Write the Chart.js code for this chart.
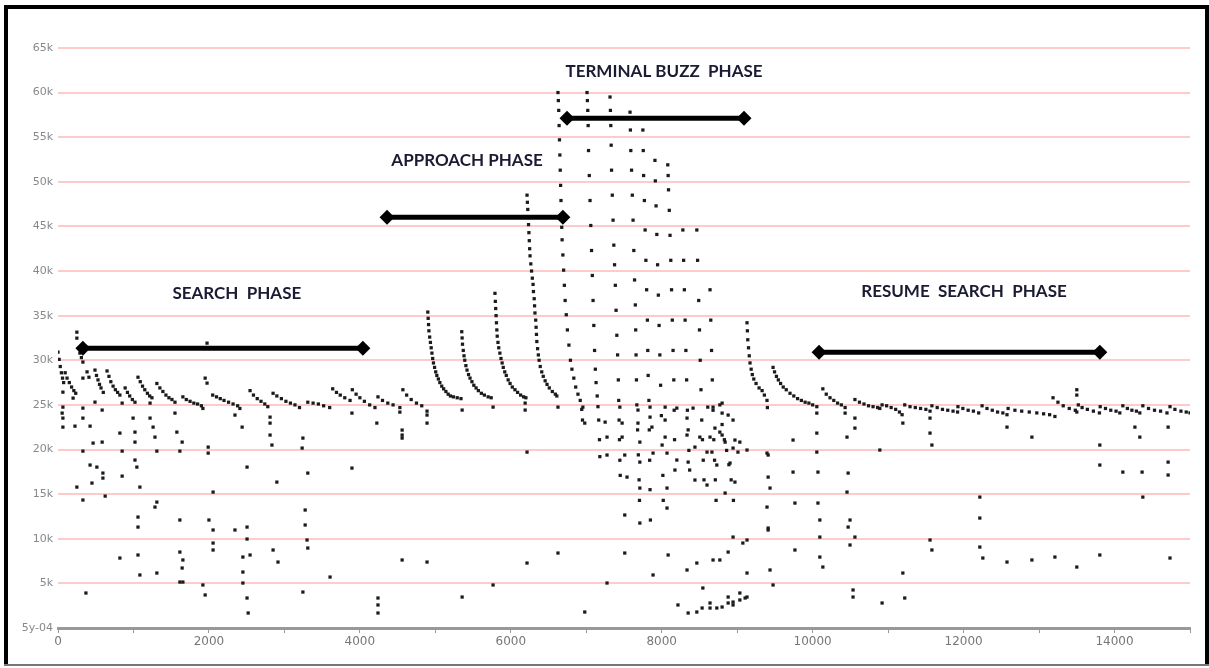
<!DOCTYPE html>
<html><head><meta charset="utf-8">
<script src="https://cdn.jsdelivr.net/npm/chart.js@4.4.1/dist/chart.umd.min.js"></script>
<style>html,body{margin:0;padding:0;background:#fff;}canvas{display:block;}</style>
</head><body>
<canvas id="c" width="1209" height="668"></canvas>
<script>
// ---- tick labels ----
const xTickValues = [0,1000,2000,3000,4000,5000,6000,7000,8000,9000,10000,11000,12000,13000,14000,15000];
const yTickValues = [0,5000,10000,15000,20000,25000,30000,35000,40000,45000,50000,55000,60000,65000];
const yTickLabels = ['5y-04','5k','10k','15k','20k','25k','30k','35k','40k','45k','50k','55k','60k','65k'];

// ---- phase annotations ----
const phaseNames  = ['SEARCH  PHASE','APPROACH PHASE','TERMINAL BUZZ  PHASE','RESUME  SEARCH  PHASE'];
const phaseStart  = [330, 4360, 6745, 10085];
const phaseEnd    = [4040, 6690, 9090, 13805];
const phaseLevel  = [31360, 46030, 57120, 30910];
const labelX      = [2370, 5420, 8030, 12005];
const labelY      = [37500, 52400, 62400, 37700];

// ---- search phase calls (time, frequency) ----
const searchCalls = [
 [0,30900],[15,30100],[30,29300],[45,28600],[60,28000],[75,27500],
 [95,28600],[120,28000],[150,27500],[180,27000],[210,26600],[235,26300],
 [290,30800],[310,30300],[330,29800],[385,28700],[410,28100],
 [490,28900],[510,28300],[530,27800],[550,27300],[570,26900],[600,26400],
 [650,28800],[675,28200],[700,27600],[730,27100],[760,26700],[790,26400],[820,26100],
 [890,26900],[920,26400],[950,26000],[985,25600],[1020,25300],
 [1060,28100],[1090,27600],[1120,27100],[1150,26700],[1185,26300],[1215,26000],[1245,25800],
 [1310,27400],[1350,26900],[1390,26500],[1430,26100],[1470,25800],[1510,25600],[1550,25300],
 [1655,25900],[1700,25600],[1750,25400],[1800,25200],[1850,25100],[1900,24900],[1920,24600],
 [2050,26100],[2100,25900],[2150,25700],[2200,25500],[2260,25300],[2320,25100],[2380,24900],[2410,24600],
 [2545,26600],[2590,26100],[2640,25700],[2690,25400],[2740,25100],[2780,24800],
 [2850,26300],[2900,26000],[2960,25700],[3020,25400],[3080,25200],[3140,25000],[3200,24700],
 [3310,25300],[3380,25200],[3450,25100],[3520,24900],[3600,24700],
 [3640,26800],[3690,26400],[3740,26100],[3800,25800],[3870,25500],
 [3900,26700],[3950,26200],[4000,25800],[4060,25400],[4130,25000],[4200,24700],
 [4240,25900],[4300,25500],[4370,25200],[4440,25000],[4530,24700],
 [4570,26700],[4620,26100],[4680,25600],[4750,25200],[4820,24900],[4890,24300]
];

// ---- approach phase calls ----
const approachCalls = [
 [4900,35400],[4905,34700],[4910,34000],[4915,33300],[4925,32600],[4935,32000],[4945,31400],[4955,30800],[4965,30200],
 [4975,29700],[4990,29200],[5005,28700],[5020,28300],[5040,27900],[5060,27500],[5085,27100],[5110,26800],[5140,26500],
 [5170,26200],[5200,26000],[5240,25900],[5290,25800],[5340,25700],
 [5350,33200],[5355,32500],[5360,31800],[5370,31100],[5380,30500],[5390,30000],[5405,29400],[5420,28900],[5440,28400],
 [5460,28000],[5485,27600],[5510,27200],[5540,26900],[5570,26600],[5610,26300],[5650,26100],[5700,25900],[5740,25800],
 [5790,37500],[5795,36600],[5800,35800],[5805,35000],[5810,34200],[5815,33400],[5820,32700],[5830,32000],[5840,31400],
 [5855,30800],[5870,30200],[5885,29700],[5900,29200],[5920,28700],[5940,28300],[5965,27800],[5990,27400],[6020,27000],
 [6055,26700],[6090,26400],[6130,26100],[6170,25900],[6200,25800],
 [6215,48500],[6220,47700],[6225,46900],[6230,46000],[6235,45200],[6240,44300],[6245,43400],[6250,42500],[6255,41700],
 [6265,40800],[6275,40000],[6285,39200],[6295,38500],[6300,37700],[6310,36900],[6315,36100],[6320,35300],[6330,34500],
 [6335,33700],[6340,32900],[6345,32100],[6355,31300],[6365,30600],[6375,30000],[6390,29300],[6410,28700],[6430,28200],
 [6455,27700],[6480,27300],[6510,26900],[6550,26500],[6590,26200],[6610,26000]
];

// ---- terminal buzz calls ----
const buzzCalls = [
 [6625,60000],[6630,59100],[6635,58000],[6640,56300],[6645,54700],[6650,53000],[6655,51300],[6660,49600],[6665,47900],
 [6670,46300],[6675,44900],[6680,43500],[6690,41800],[6700,40100],[6710,38400],[6720,36700],[6735,35100],[6750,33400],
 [6770,31700],[6790,30000],[6810,29000],[6835,28000],[6860,27000],[6890,26200],[6920,25500],[6940,24500],[6950,23300],
 [7010,60000],[7015,59100],[7020,58000],[7025,56300],[7030,53500],[7040,50700],[7050,47900],[7060,45100],[7070,42300],
 [7080,39500],[7090,36700],[7100,33900],[7110,31100],[7120,29000],[7130,27500],[7145,26000],[7155,24800],[7165,23300],
 [7175,21100],[7180,19200],
 [7315,59500],[7320,58000],[7325,56300],[7330,54100],[7335,51300],[7345,48500],[7355,45700],[7365,42900],[7375,40700],
 [7385,38400],[7395,35600],[7405,32800],[7415,30600],[7425,27800],[7430,25500],[7435,23300],[7440,21100],[7445,18800],[7450,17100],
 [7580,57800],[7585,55800],[7590,53500],[7600,51300],[7610,48500],[7620,45700],[7630,42300],[7640,39000],[7650,36200],
 [7655,33400],[7660,30600],[7665,27800],[7670,25000],[7680,22200],[7690,19400],[7700,16600],[7705,14300],
 [7750,55800],[7755,53500],[7760,50700],[7770,47900],[7780,44600],[7790,41200],[7800,37900],[7810,34500],[7815,31100],
 [7820,28300],[7830,25500],[7835,22200],[7840,18800],[7845,15500],[7850,12100],
 [7910,52400],[7915,50100],[7925,47300],[7935,44100],[7945,40700],[7955,37300],[7965,33900],[7975,30600],[7985,27200],
 [7995,23800],[8005,20500],[8015,17100],[8020,14300],
 [8080,51900],[8085,50700],[8090,49100],[8100,46800],[8110,44000],[8120,41200],[8130,37900],[8140,34500],[8150,31100],
 [8160,27800],[8165,24400],[8170,21100],[8175,17700],
 [8280,44600],[8290,41200],[8300,37900],[8310,34500],[8320,31100],[8330,27800],[8340,24400],[8350,22200],[8360,19900],[8370,17700],
 [8465,44600],[8475,41200],[8490,36700],[8500,33400],[8510,30000],[8520,26700],[8530,23300],[8540,21100],[8550,18800],[8560,16600],
 [8640,37900],[8650,34500],[8660,31100],[8670,27800],[8680,24400],[8690,21100],[8700,18800],[8710,16600],[8720,14300],
 [8770,25000],[8800,22800],[8830,21100],[8860,19900],[8890,18300],[8920,16600],[8950,14300],
 [8215,2580],[8350,1680],[8465,1790],[8535,2240],[8640,2240],[8730,2240],[8800,2350],[8880,2800],[8945,2910],
 [9035,3140],[9105,3360],[9035,3920],[9130,3470],[8640,2800],[8945,2580]
];

// ---- resume search calls ----
const resumeCalls = [
 [9130,34200],[9135,33300],[9140,32300],[9150,31400],[9160,30500],[9170,29700],[9185,29000],[9200,28400],[9220,27900],
 [9250,27400],[9290,26900],[9330,26600],[9360,26100],[9395,25500],[9400,24700],
 [9475,29200],[9495,28700],[9520,28200],[9545,27800],[9575,27400],[9610,27000],[9650,26700],[9700,26300],[9750,26000],
 [9800,25700],[9850,25500],[9900,25300],[9950,25200],[10000,25000],[10055,24800],
 [10135,26800],[10180,26200],[10230,25800],[10280,25500],[10330,25200],[10380,25000],[10430,24700],
 [10560,25600],[10620,25300],[10680,25100],[10740,24900],[10800,24800],[10860,24700],[10890,24600],
 [10920,25000],[10980,24900],[11040,24700],[11100,24500],[11150,24200],[11185,23900],
 [11220,25000],[11290,24800],[11360,24700],[11430,24600],[11500,24500],[11555,24300],
 [11580,24900],[11650,24700],[11720,24500],[11790,24400],[11860,24300],[11920,24200],
 [11925,24800],[11990,24600],[12060,24400],[12130,24300],[12200,24100],
 [12245,24900],[12310,24600],[12380,24400],[12450,24200],[12520,24100],[12575,23900],
 [12590,24600],[12680,24400],[12770,24300],[12870,24200],[12970,24100],[13060,24000],[13140,23900],[13210,23700],
 [13185,25800],[13250,25300],[13320,24900],[13400,24600],[13480,24400],
 [13500,26700],[13500,26100],[13500,24200],
 [13520,25000],[13570,24700],[13640,24500],[13720,24300],[13800,24100],
 [13810,24800],[13880,24600],[13950,24400],[14020,24300],[14070,24100],
 [14110,24900],[14170,24600],[14230,24400],[14290,24300],[14335,24100],
 [14375,24900],[14450,24600],[14530,24400],[14610,24300],[14695,24100],
 [14735,24800],[14800,24500],[14880,24300],[14950,24200],[15000,24100]
];

// ---- isolated points / echoes ----
const scatterPoints = [
 [250,33150],[250,32480],[1975,31920],[1950,28000],[1975,27440],[65,26430],[65,24750],[55,24080],[65,23520],[65,22510],
 [200,25760],[330,28000],[330,24640],[330,23520],[225,22620],[425,22620],[490,25310],[585,24420],[850,25200],[820,21840],
 [995,23520],[1020,21950],[1020,20830],[1220,23520],[1260,22510],[1285,21390],[1220,25200],[1550,24080],[1575,21950],
 [1645,20830],[585,20830],[465,20720],[330,19820],[850,19820],[1310,19820],[1615,19820],[1990,20270],[1990,19600],
 [425,18260],[515,18030],[595,17360],[595,16800],[1020,18820],[1045,18030],[450,16240],[250,15790],[330,14340],[625,14780],
 [850,17020],[1085,15790],[1310,14110],[1285,13550],[1060,12430],[1060,11310],[1615,12100],[2000,12100],[2055,10980],
 [2345,10980],[2505,11310],[2505,9970],[2055,15230],[2505,18030],[2810,21620],[2835,20500],[2810,23630],[2810,22960],
 [2345,23860],[2440,22510],[2900,16350],[3245,21280],[3235,20160],[3310,17360],[3275,13220],[3275,11540],[3300,9860],
 [3310,8960],[3895,17920],[4225,22960],[4560,22180],[4560,21280],[4890,23860],[4890,22960],[820,7840],[1060,8180],
 [1085,5940],[1310,6160],[1615,8510],[1655,7620],[1645,6720],[1615,5150],[1655,5150],[1920,4820],[1950,3700],[2055,9520],
 [2055,8740],[2450,7950],[2545,8180],[2450,6270],[2450,5040],[2505,3360],[2520,1680],[2850,8740],[2915,7390],[3245,4030],
 [3605,5710],[4240,3360],[4240,2580],[4240,1680],[4560,7620],[4890,7390],[370,3920],[3895,24080],
 [4530,24190],[4560,21620],[5355,24420],[5765,24750],[6190,25200],[6190,24420],[6625,24750],[6215,19710],[6955,24750],
 [6980,22960],[5355,3470],[5765,4820],[6215,7280],[6625,8400],[6980,1790],[7275,5040],[7510,8400],[7510,12660],[7710,11760],
 [8085,8180],[7885,5940],[8070,13440],[7710,15680],[8070,15680],[8840,15120],[8440,16580],[8600,16020],[8970,16350],
 [8200,18820],[8350,18590],[8730,18260],[8905,18480],[8600,19710],[8665,19710],[8945,20160],[9010,19710],[9130,19940],
 [9035,20830],[8970,21060],[8840,20830],[8770,21950],[8800,21620],[8705,22400],[8440,20270],[8335,21620],[8505,21390],
 [8640,21390],[8800,24080],[8880,23860],[8945,23300],[8415,24640],[8610,24750],[8680,24750],[8800,25200],[8335,23520],
 [8200,24640],[8045,24750],[8045,23300],[8045,21390],[8070,19600],[7845,24750],[7845,23630],[7870,22510],[7885,19600],
 [7685,24420],[7685,22960],[7710,20830],[7710,18590],[7445,24750],[7475,22960],[7475,21390],[7510,19380],[7540,16910],
 [7275,21390],[7275,19380],[7250,23070],[9130,6160],[9435,6500],[9395,19600],[9410,16910],[9435,15680],[9395,13550],
 [9410,11200],[9740,21060],[8945,10190],[9075,9520],[9130,9860],[8880,8510],[8770,7620],[8680,7620],[8465,7280],[8335,6500],
 [8545,4480],[8880,3470],
 [9410,19380],[9410,10980],[9475,4820],[9740,17470],[9765,14000],[9765,8740],[10055,24080],[10055,21840],[10055,19710],
 [10070,17470],[10070,14000],[10095,12100],[10095,10190],[10095,7950],[10135,6830],[10430,24080],[10455,21390],[10470,17360],
 [10455,15230],[10495,12100],[10470,11310],[10495,9300],[10560,10190],[10535,4260],[10535,3470],[10560,23520],[10560,22400],
 [10890,19940],[10920,2800],[11195,22960],[11195,6160],[11220,3360],[11555,23520],[11555,21840],[11580,20500],[11555,9860],
 [11580,8740],[12215,14670],[12215,12320],[12215,9070],[12255,7840],[12575,22510],[12575,7390],[12905,21390],[12905,7620],
 [13210,7950],[13500,6830],[13805,20500],[13805,18260],[13805,8180],[14110,17470],[14365,17470],[14270,22510],[14335,21390],
 [14375,14670],[14710,18590],[14710,17140],[14710,22510],[14735,7840]
];

// ---- build ----
const toPts = arr => arr.map(p => ({x: p[0], y: p[1]}));
const dotStyle = {pointStyle:'rect', pointRadius:2.3, pointHoverRadius:2.3, backgroundColor:'#1a1a1a', borderWidth:0, showLine:false};

const phaseSets = phaseNames.map((n,i) => ({
  label: n,
  data: [{x: phaseStart[i], y: phaseLevel[i]}, {x: phaseEnd[i], y: phaseLevel[i]}],
  showLine: true, borderColor:'#000', borderWidth:5, backgroundColor:'#000',
  pointStyle:'rectRot', pointRadius:7.5, pointHoverRadius:7.5, pointBorderWidth:0
}));

const callSets = [
  Object.assign({label:'search', data: toPts(searchCalls)}, dotStyle),
  Object.assign({label:'approach', data: toPts(approachCalls)}, dotStyle),
  Object.assign({label:'buzz', data: toPts(buzzCalls)}, dotStyle),
  Object.assign({label:'resume', data: toPts(resumeCalls)}, dotStyle),
  Object.assign({label:'other', data: toPts(scatterPoints)}, dotStyle)
];

const framePlugin = {
  id: 'frame',
  afterDraw(chart) {
    const ctx = chart.ctx;
    ctx.save();
    ctx.fillStyle = '#000';
    ctx.fillRect(4, 5, 1205, 4);
    ctx.fillRect(4, 5, 4, 661);
    ctx.fillRect(1205, 5, 4, 661);
    ctx.fillStyle = '#777';
    ctx.fillRect(4, 664, 1205, 2);
    ctx.restore();
  }
};

const labelPlugin = {
  id: 'phaseLabels',
  afterDatasetsDraw(chart) {
    const {ctx, scales: {x, y}} = chart;
    ctx.save();
    ctx.font = 'bold 17px Lato, "Open Sans", sans-serif';
    ctx.fillStyle = '#1b1b33';
    ctx.textAlign = 'center';
    ctx.textBaseline = 'middle';
    phaseNames.forEach((t, i) => ctx.fillText(t, x.getPixelForValue(labelX[i]), y.getPixelForValue(labelY[i])));
    ctx.restore();
  }
};

new Chart(document.getElementById('c'), {
  type: 'scatter',
  data: { datasets: phaseSets.concat(callSets) },
  options: {
    responsive: false,
    animation: false,
    devicePixelRatio: 1,
    layout: { padding: { left: 0, right: 19, top: 39, bottom: 0 } },
    plugins: { legend: { display: false }, tooltip: { enabled: false } },
    scales: {
      x: {
        type: 'linear', min: 0, max: 15000,
        afterFit(s) { s.height = 40; },
        afterBuildTicks(s) { s.ticks = xTickValues.map(v => ({value: v})); },
        ticks: {
          autoSkip: false, maxRotation: 0, color: '#777', padding: 2,
          font: { family: 'DejaVu Sans', size: 12 },
          callback: v => (v % 2000 === 0 && v < 15000) ? String(v) : ''
        },
        grid: { display: true, drawOnChartArea: false, drawTicks: true, tickLength: 5, color: '#999', lineWidth: 1 },
        border: { display: true, color: '#999', width: 3 }
      },
      y: {
        type: 'linear', min: 0, max: 66000,
        afterFit(s) { s.width = 58; },
        afterBuildTicks(s) { s.ticks = yTickValues.map(v => ({value: v})); },
        ticks: {
          color: '#888', padding: 5,
          font: { family: 'DejaVu Sans', size: 11 },
          callback: (v, i) => yTickLabels[i]
        },
        grid: { color: 'rgba(255,150,150,0.5)', lineWidth: 2, drawTicks: false },
        border: { display: false }
      }
    }
  },
  plugins: [framePlugin, labelPlugin]
});
</script>
</body></html>
